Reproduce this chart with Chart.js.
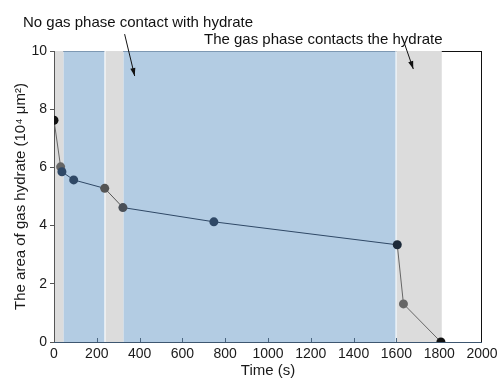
<!DOCTYPE html>
<html lang="en">
<head>
  <meta charset="UTF-8" />
  <title>Gas hydrate area vs time</title>
  <script src="https://cdn.jsdelivr.net/npm/chart.js"></script>
  <style>
    html, body { margin: 0; padding: 0; background: #fff; }
    #hydrateChart { display: block; }
  </style>
</head>
<body>
  <canvas id="hydrateChart" width="501" height="383"></canvas>

  <script>
    // measured hydrate area over time
    const times = [0, 31, 37, 92, 237, 322, 747, 1604, 1633, 1808];
    const areas = [7.62, 6.02, 5.85, 5.57, 5.28, 4.62, 4.13, 3.34, 1.31, 0];

    // shaded time windows (s)
    const noContactBands = [[0, 45], [237, 325], [1600, 1812]];
    const contactBands = [[45, 237], [325, 1600]];

    const xTicks = [0, 200, 400, 600, 800, 1000, 1200, 1400, 1600, 1800, 2000];
    const yTicks = [0, 2, 4, 6, 8, 10];

    const GRAY = '#dcdcdc';
    const BLUE = '#b3cce3';
    const pointColors = ['#111', '#666', '#2f4866', '#2f4866', '#555', '#4a5058', '#2f4866', '#1c2a3a', '#666', '#111'];
    const segColors = ['#666', '#666', '#2f4866', '#2f4866', '#555', '#2f4866', '#2f4866', '#666', '#666'];

    const FONT = '"Liberation Sans", Arial, sans-serif';

    // shaded bands behind the data, plus frame and inward x ticks
    const bandsPlugin = {
      id: 'bands',
      beforeDatasetsDraw(chart) {
        const { ctx, chartArea: a, scales: { x, y } } = chart;
        ctx.save();
        // frame
        ctx.strokeStyle = '#111';
        ctx.lineWidth = 1;
        ctx.strokeRect(a.left + 0.5, a.top + 0.5, a.right - a.left - 1, a.bottom - a.top);
        const fill = (bands, color) => {
          ctx.fillStyle = color;
          bands.forEach(([s, e]) => {
            const x0 = x.getPixelForValue(s);
            const x1 = x.getPixelForValue(e);
            ctx.fillRect(x0, a.top, x1 - x0, a.bottom - a.top);
          });
        };
        fill(noContactBands, GRAY);
        fill(contactBands, BLUE);
        // top edge shows faintly through the blue windows
        ctx.strokeStyle = '#7d98b3';
        contactBands.forEach(([s, e]) => {
          ctx.beginPath();
          ctx.moveTo(x.getPixelForValue(s), a.top + 0.5);
          ctx.lineTo(x.getPixelForValue(e), a.top + 0.5);
          ctx.stroke();
        });
        // thin gaps between adjoining windows
        ctx.fillStyle = '#fff';
        [237, 1600].forEach(t => {
          ctx.fillRect(Math.round(x.getPixelForValue(t)) - 0.5, a.top, 1, a.bottom - a.top);
        });
        // left and bottom axes
        ctx.strokeStyle = '#555';
        ctx.beginPath();
        ctx.moveTo(a.left + 0.5, a.top);
        ctx.lineTo(a.left + 0.5, a.bottom + 0.5);
        ctx.stroke();
        ctx.strokeStyle = '#3d5670';
        ctx.beginPath();
        ctx.moveTo(a.left, a.bottom + 0.5);
        ctx.lineTo(a.right, a.bottom + 0.5);
        ctx.stroke();
        ctx.strokeStyle = '#4a6580';
        xTicks.forEach(t => {
          if (t === 0 || t === 2000) return;
          const px = Math.round(x.getPixelForValue(t)) + 0.5;
          ctx.beginPath();
          ctx.moveTo(px, a.bottom);
          ctx.lineTo(px, a.bottom - 4);
          ctx.stroke();
        });
        ctx.restore();
      }
    };

    // annotation texts with arrows pointing into the bands
    const notes = [
      { text: 'No gas phase contact with hydrate', tx: 23, ty: 27, from: [330, 10.58], to: [377, 9.14] },
      { text: 'The gas phase contacts the hydrate', tx: 204, ty: 44, from: [1637, 10.27], to: [1679, 9.38] }
    ];

    const notesPlugin = {
      id: 'notes',
      afterDraw(chart) {
        const { ctx, scales: { x, y } } = chart;
        ctx.save();
        ctx.font = '15px ' + FONT;
        ctx.fillStyle = '#111';
        ctx.textBaseline = 'alphabetic';
        notes.forEach(n => {
          ctx.fillText(n.text, n.tx, n.ty);
          const x0 = x.getPixelForValue(n.from[0]), y0 = y.getPixelForValue(n.from[1]);
          const x1 = x.getPixelForValue(n.to[0]), y1 = y.getPixelForValue(n.to[1]);
          ctx.strokeStyle = '#111';
          ctx.lineWidth = 1;
          ctx.beginPath();
          ctx.moveTo(x0, y0);
          ctx.lineTo(x1, y1);
          ctx.stroke();
          const ang = Math.atan2(y1 - y0, x1 - x0);
          const len = 8, half = 2.6;
          ctx.beginPath();
          ctx.moveTo(x1, y1);
          ctx.lineTo(x1 - len * Math.cos(ang) + half * Math.sin(ang), y1 - len * Math.sin(ang) - half * Math.cos(ang));
          ctx.lineTo(x1 - len * Math.cos(ang) - half * Math.sin(ang), y1 - len * Math.sin(ang) + half * Math.cos(ang));
          ctx.closePath();
          ctx.fill();
        });
        ctx.restore();
      }
    };

    const ctx = document.getElementById('hydrateChart').getContext('2d');
    new Chart(ctx, {
      type: 'scatter',
      data: {
        datasets: [{
          data: times.map((t, i) => ({ x: t, y: areas[i] })),
          showLine: true,
          borderWidth: 1,
          borderColor: '#2f4866',
          segment: { borderColor: c => segColors[c.p0DataIndex] },
          pointRadius: 4.5,
          pointBorderWidth: 0,
          pointBackgroundColor: pointColors,
          pointBorderColor: pointColors
        }]
      },
      options: {
        responsive: false,
        animation: false,
        layout: { padding: { top: 51, right: 19, left: 0, bottom: 0 } },
        plugins: {
          legend: { display: false },
          tooltip: { enabled: false }
        },
        scales: {
          x: {
            type: 'linear',
            min: 0,
            max: 2000,
            afterFit: s => { s.height = 41; s.paddingRight = 0; s.paddingLeft = 0; },
            afterBuildTicks: s => { s.ticks = xTicks.map(v => ({ value: v })); },
            grid: { display: false, drawTicks: false },
            border: { display: false },
            ticks: { color: '#1a1a1a', font: { family: FONT, size: 14 }, padding: 4, maxRotation: 0, autoSkip: false, callback: v => String(v) },
            title: { display: true, text: 'Time (s)', color: '#1a1a1a', font: { family: FONT, size: 15 }, padding: { top: 0, bottom: 3 } }
          },
          y: {
            min: 0,
            max: 10,
            afterFit: s => { s.width = 54; s.paddingTop = 0; s.paddingBottom = 0; },
            afterBuildTicks: s => { s.ticks = yTicks.map(v => ({ value: v })); },
            grid: { drawOnChartArea: false, drawTicks: true, tickLength: 4, color: '#555' },
            border: { display: false },
            ticks: { color: '#1a1a1a', font: { family: FONT, size: 14 }, padding: 3, callback: v => String(v) },
            title: { display: true, text: 'The area of gas hydrate (10\u2074 \u03bcm\u00b2)', color: '#1a1a1a', font: { family: FONT, size: 15 }, padding: { top: 12, bottom: 0 } }
          }
        }
      },
      plugins: [bandsPlugin, notesPlugin]
    });
  </script>
</body>
</html>
